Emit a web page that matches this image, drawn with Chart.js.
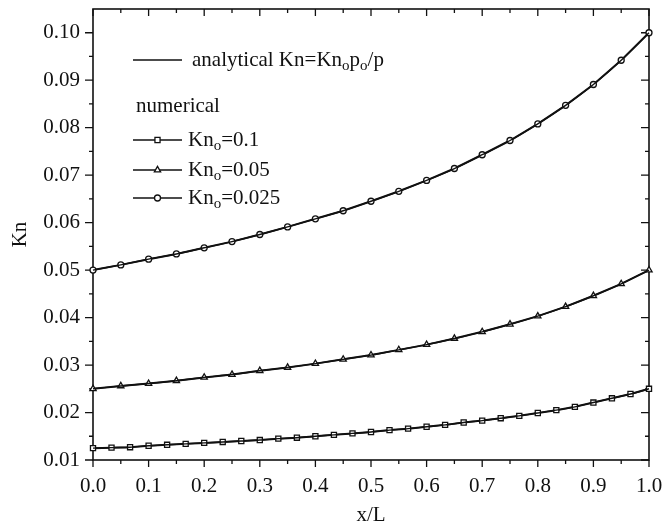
<!DOCTYPE html>
<html><head><meta charset="utf-8">
<script src="https://cdn.jsdelivr.net/npm/chart.js@4.4.1/dist/chart.umd.min.js"></script>
<style>html,body{margin:0;padding:0;background:#fff}#wrap{width:667px;height:528px}</style>
</head><body><div id="wrap"><canvas id="c" width="667" height="528"></canvas></div>
<script>
// ---- data ----
const xCoarse = [0,0.05,0.1,0.15,0.2,0.25,0.3,0.35,0.4,0.45,0.5,0.55,0.6,0.65,0.7,0.75,0.8,0.85,0.9,0.95,1.0];
const xFine = [0,0.0333,0.0667,0.1,0.1333,0.1667,0.2,0.2333,0.2667,0.3,0.3333,0.3667,0.4,0.4333,0.4667,0.5,0.5333,0.5667,0.6,0.6333,0.6667,0.7,0.7333,0.7667,0.8,0.8333,0.8667,0.9,0.9333,0.9667,1.0];
const knSquares = [0.0125,0.0126,0.0127,0.0130,0.0132,0.0134,0.0136,0.0138,0.0140,0.0142,0.0145,0.0147,0.0150,0.0153,0.0156,0.0159,0.0163,0.0166,0.0170,0.0174,0.0179,0.0183,0.0188,0.0193,0.0199,0.0205,0.0212,0.0221,0.0230,0.0239,0.0250];
const knTriangles = [0.0250,0.0256,0.0261,0.0267,0.0274,0.0280,0.0288,0.0295,0.0303,0.0312,0.0321,0.0332,0.0343,0.0356,0.0370,0.0386,0.0403,0.0423,0.0446,0.0471,0.0500];
const knCircles = [0.0500,0.0511,0.0523,0.0534,0.0547,0.0560,0.0575,0.0591,0.0608,0.0625,0.0645,0.0666,0.0689,0.0714,0.0743,0.0773,0.0808,0.0847,0.0891,0.0942,0.1000];
const xTicks = [0,0.1,0.2,0.3,0.4,0.5,0.6,0.7,0.8,0.9,1.0];
const xMinorTicks = [0.05,0.15,0.25,0.35,0.45,0.55,0.65,0.75,0.85,0.95];
const yTicks = [0.01,0.02,0.03,0.04,0.05,0.06,0.07,0.08,0.09,0.10];
const yMinorTicks = [0.015,0.025,0.035,0.045,0.055,0.065,0.075,0.085,0.095];
const seriesLabels = ['0.1','0.05','0.025'];

const FONT = 'Liberation Serif';
const FS = 21;
const INK = '#111';
function pts(xs, ys){ return xs.map((x,i)=>({x:x, y:ys[i]})); }

function numerical(xs, ys, style, r){
  return {data: pts(xs, ys), borderColor: INK, borderWidth: 2, pointStyle: style,
    pointRadius: r, pointBorderWidth: 1.3, pointBackgroundColor: '#fff', pointBorderColor: INK,
    tension: 0, clip: false, fill: false};
}
function analytical(xs, ys){
  return {data: pts(xs, ys), borderColor: INK, borderWidth: 1.4, pointRadius: 0, tension: 0.3, clip: false, fill:false};
}

const framePlugin = {
  id: 'frame',
  beforeDatasetsDraw(chart){
    const {ctx, chartArea:a, scales:{x, y}} = chart;
    ctx.save();
    ctx.strokeStyle = INK;
    ctx.lineWidth = 1.6;
    ctx.strokeRect(a.left, a.top, a.right - a.left, a.bottom - a.top);
    ctx.lineWidth = 1.3;
    ctx.beginPath();
    const xt = (v, len) => { const p = x.getPixelForValue(v);
      ctx.moveTo(p, a.bottom); ctx.lineTo(p, a.bottom + len);
      ctx.moveTo(p, a.top); ctx.lineTo(p, a.top + len); };
    const yt = (v, len) => { const p = y.getPixelForValue(v);
      ctx.moveTo(a.left, p); ctx.lineTo(a.left - len, p);
      ctx.moveTo(a.right, p); ctx.lineTo(a.right - len, p); };
    xTicks.forEach(v => xt(v, 7));
    xMinorTicks.forEach(v => xt(v, 4));
    yTicks.forEach(v => yt(v, 8));
    yMinorTicks.forEach(v => yt(v, 4));
    ctx.stroke();
    ctx.restore();
  }
};

function richText(ctx, x, y, parts){
  let cx = x;
  for (const [t, sub] of parts){
    ctx.font = (sub ? 15 : FS) + 'px "' + FONT + '"';
    ctx.fillText(t, cx, y + (sub ? 6 : 0));
    cx += ctx.measureText(t).width;
  }
}

const legendPlugin = {
  id: 'customLegend',
  afterDraw(chart){
    const ctx = chart.ctx;
    ctx.save();
    ctx.fillStyle = INK; ctx.strokeStyle = INK;
    ctx.textBaseline = 'middle'; ctx.textAlign = 'left';
    ctx.lineWidth = 1.5;
    ctx.beginPath(); ctx.moveTo(133, 60); ctx.lineTo(182, 60); ctx.stroke();
    richText(ctx, 192, 60, [['analytical Kn=Kn',0],['o',1],['p',0],['o',1],['/p',0]]);
    richText(ctx, 136, 106, [['numerical',0]]);
    const ys = [140, 170, 198];
    const styles = [['rect',3.6],['triangle',3.6],['circle',3]];
    ys.forEach((yy, i) => {
      ctx.lineWidth = 1.5;
      ctx.strokeStyle = INK;
      ctx.beginPath(); ctx.moveTo(133, yy); ctx.lineTo(182, yy); ctx.stroke();
      ctx.fillStyle = '#fff';
      ctx.lineWidth = 1.3;
      Chart.helpers.drawPoint(ctx, {pointStyle: styles[i][0], radius: styles[i][1], borderWidth: 1.3, rotation: 0}, 157.5, yy);
      ctx.fillStyle = INK;
      richText(ctx, 188, yy, [['Kn',0],['o',1],['=' + seriesLabels[i],0]]);
    });
    ctx.restore();
  }
};

new Chart(document.getElementById('c'), {
  type: 'line',
  data: { datasets: [
    analytical(xCoarse, knCircles),
    analytical(xCoarse, knTriangles),
    analytical(xFine, knSquares),
    numerical(xFine, knSquares, 'rect', 3.6),
    numerical(xCoarse, knTriangles, 'triangle', 3.6),
    numerical(xCoarse, knCircles, 'circle', 3)
  ]},
  options: {
    responsive: false, animation: false, devicePixelRatio: 1,
    layout: { padding: { top: 9, right: 18, left: 0, bottom: 0 } },
    plugins: { legend: { display: false }, tooltip: { enabled: false } },
    scales: {
      x: { type: 'linear', min: 0, max: 1,
        afterBuildTicks: s => { s.ticks = xTicks.map(v => ({value: v})); },
        afterFit: s => { s.height = 68; s.paddingLeft = 0; s.paddingRight = 0; },
        grid: { display: false, drawTicks: false }, border: { display: false },
        ticks: { callback: v => v.toFixed(1), font: { family: FONT, size: FS }, color: INK, padding: 14, maxRotation: 0, autoSkip: false },
        title: { display: true, text: 'x/L', font: { family: FONT, size: FS }, color: INK, padding: { top: 1, bottom: 0 } }
      },
      y: { type: 'linear', min: 0.01, max: 0.105,
        afterBuildTicks: s => { s.ticks = yTicks.map(v => ({value: v})); },
        afterFit: s => { s.width = 93; s.paddingTop = 0; s.paddingBottom = 0; },
        grid: { display: false, drawTicks: false }, border: { display: false },
        ticks: { callback: v => v.toFixed(2), font: { family: FONT, size: FS }, color: INK, padding: 13, autoSkip: false },
        title: { display: true, text: 'Kn', font: { family: FONT, size: FS }, color: INK, padding: { top: 8, bottom: 0 } }
      }
    }
  },
  plugins: [framePlugin, legendPlugin]
});
</script></body></html>
